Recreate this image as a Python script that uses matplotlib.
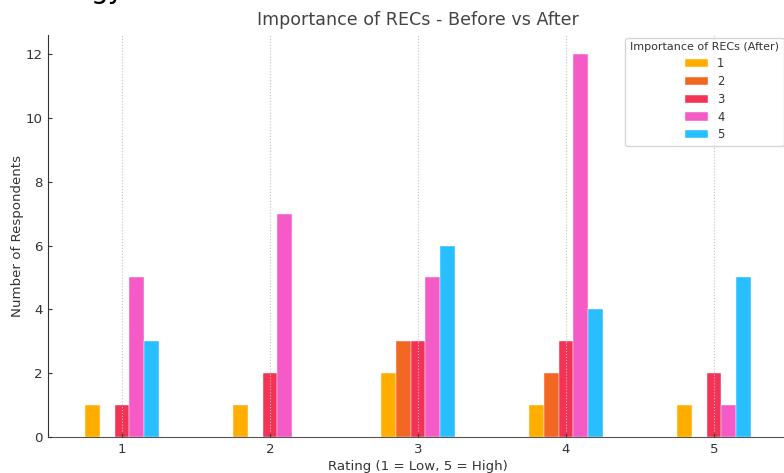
import matplotlib
matplotlib.use("Agg")
import matplotlib.pyplot as plt
import pandas as pd

# rating before (x axis) and counts per rating after (hue)
ratings_before = ['1', '2', '3', '4', '5']
after_1 = [1, 1, 2, 1, 1]
after_2 = [0, 0, 3, 2, 0]
after_3 = [1, 2, 3, 3, 2]
after_4 = [5, 7, 5, 12, 1]
after_5 = [3, 0, 6, 4, 5]
after_labels = ['1', '2', '3', '4', '5']
colors = ['#FFAE00', '#F26722', '#F23355', '#F55BC6', '#28BEFF']

df = pd.DataFrame({after_labels[0]: after_1, after_labels[1]: after_2,
                   after_labels[2]: after_3, after_labels[3]: after_4,
                   after_labels[4]: after_5}, index=ratings_before)

plt.rcParams['font.family'] = 'DejaVu Sans'
plt.rcParams['text.color'] = '#333333'
plt.rcParams['axes.labelcolor'] = '#333333'
plt.rcParams['xtick.color'] = '#333333'
plt.rcParams['ytick.color'] = '#333333'

fig = plt.figure(figsize=(7.84, 4.73), dpi=100)
ax = fig.add_axes([48 / 784, 36 / 473, 740 / 784, 402 / 473])

df.plot(kind='bar', ax=ax, width=0.5, color=colors, edgecolor='white',
        linewidth=0.3, rot=0, zorder=2)

ax.set_title("Importance of RECs - Before vs After", fontsize=12.6, color='#444444', pad=7)
ax.set_xlabel("Rating (1 = Low, 5 = High)", fontsize=9.6, labelpad=3)
ax.set_ylabel("Number of Respondents", fontsize=9.6, labelpad=1)
ax.set_ylim(0, 12.6)
ax.set_yticks([0, 2, 4, 6, 8, 10, 12])
ax.tick_params(labelsize=9.6, length=3, direction='in', pad=4)
for t in ax.xaxis.get_major_ticks() + ax.yaxis.get_major_ticks():
    t.tick1line.set_zorder(5)
ax.xaxis.set_zorder(4)
ax.yaxis.set_zorder(4)

ax.grid(axis='x', linestyle=':', color='#c4c4c4', linewidth=0.8, zorder=0)
ax.grid(axis='y', visible=False)
ax.set_axisbelow(False)
ax.spines['top'].set_visible(False)
ax.spines['right'].set_visible(False)
ax.spines['left'].set_color('#333333')
ax.spines['bottom'].set_color('#555555')

leg = ax.legend(title="Importance of RECs (After)", loc='upper right',
                bbox_to_anchor=(1.002, 1.008), fontsize=8.3, title_fontsize=8,
                labelspacing=0.42, frameon=True, edgecolor='#cccccc', fancybox=True)
leg.set_zorder(6)

# fragment of a title above the visible area
fig.text(125 / 784, 1.0 + 2.5 / 473, "gy", fontsize=20, ha='right', va='baseline', color='black')

fig.savefig("out.png", dpi=100)
